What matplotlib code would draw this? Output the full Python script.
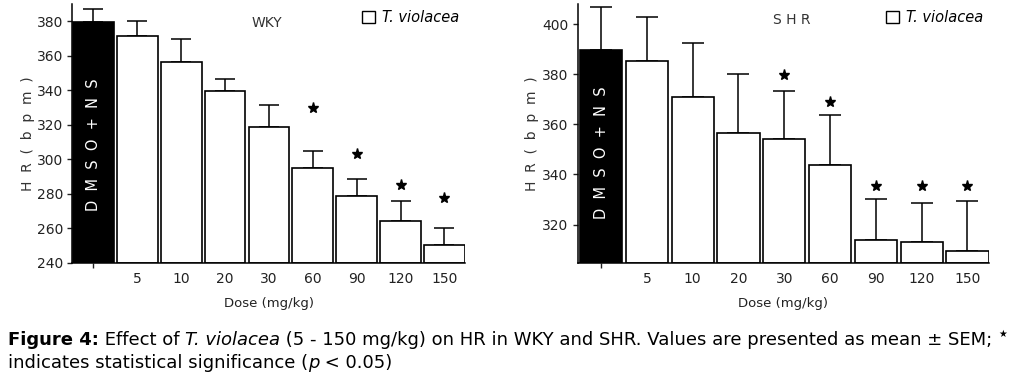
import matplotlib
matplotlib.use("Agg")
import matplotlib.pyplot as plt
from matplotlib.patches import Patch
import numpy as np

plt.rcParams['font.family'] = ['DejaVu Sans']

# doses on the x axis (first bar is the vehicle control)
doses = ['', '5', '10', '20', '30', '60', '90', '120', '150']

# WKY heart rate (mean, upper SEM end) and star heights
wky_mean = [379.5, 371.3, 356.6, 339.6, 318.7, 295.0, 278.8, 264.3, 250.4]
wky_top = [387.3, 380.0, 369.5, 346.8, 331.4, 304.8, 288.6, 275.8, 260.2]
wky_star = [None, None, None, None, None, 329.6, 303.0, 285.0, 277.6]

# SHR heart rate
shr_mean = [389.6, 385.1, 371.0, 356.5, 354.2, 343.7, 314.0, 312.9, 309.6]
shr_top = [406.9, 403.0, 392.3, 380.0, 373.4, 363.8, 330.2, 328.5, 329.6]
shr_star = [None, None, None, None, 379.6, 369.0, 335.4, 335.4, 335.4]

W, H = 1020, 384
fig = plt.figure(figsize=(W / 100, H / 100), dpi=100)

ax1 = fig.add_axes([72 / W, 1 - 263 / H, 393 / W, 259 / H])
ax2 = fig.add_axes([577.7 / W, 1 - 263 / H, 411.3 / W, 259 / H])


def panel(ax, mean, top, star, ylim, yticks, xlim, width, cap, title, tx, ty, dmso_y):
    x = np.arange(len(mean))
    mean = np.array(mean)
    top = np.array(top)
    colors = ['black'] + ['white'] * (len(mean) - 1)
    ax.errorbar(x, mean, yerr=[np.zeros(len(mean)), top - mean], fmt='none',
                ecolor='black', elinewidth=1.1, capsize=cap, capthick=1.1, zorder=1)
    ax.bar(x, mean - ylim[0], bottom=ylim[0], width=width, color=colors,
           edgecolor='black', linewidth=1.2, zorder=2)
    sx = [i for i, s in enumerate(star) if s is not None]
    sy = [s for s in star if s is not None]
    ax.plot(sx, sy, '*', color='black', markersize=8, linestyle='none')
    ax.set_ylim(*ylim)
    ax.set_xlim(*xlim)
    ax.set_yticks(yticks)
    ax.set_xticks(x)
    ax.set_xticklabels(doses)
    for i, t in enumerate(ax.xaxis.get_major_ticks()):
        if i > 0:
            t.tick1line.set_visible(False)
    ax.tick_params(labelsize=10, length=3.5, width=1, colors='#222222', pad=3)
    for s in ['top', 'right']:
        ax.spines[s].set_visible(False)
    for s in ['left', 'bottom']:
        ax.spines[s].set_linewidth(1.1)
    ax.text(tx, ty, title, transform=ax.transAxes, ha='center', va='center',
            fontsize=10, color='#333333')
    ax.text(0, dmso_y, 'D  M  S  O  +  N  S', rotation=90, color='white',
            ha='center', va='center', fontsize=10.5)
    ax.set_ylabel('H  R  (  b  p  m  )', fontsize=10, color='#333333')
    ax.yaxis.set_label_coords(-0.094, 0.5)
    ax.set_xlabel('Dose (mg/kg)', fontsize=9.5, color='#222222', labelpad=8)
    ax.legend(handles=[Patch(facecolor='white', edgecolor='black', linewidth=1)],
              labels=['T. violacea'], loc='upper right', frameon=False,
              prop={'style': 'italic', 'size': 10.5}, handlelength=0.85,
              handleheight=0.85, handletextpad=0.5, borderaxespad=0.0,
              bbox_to_anchor=(1.0, 1.0))


panel(ax1, wky_mean, wky_top, wky_star, (240, 390), [240, 260, 280, 300, 320, 340, 360, 380],
      (-0.49, 8.47), 0.93, 7, 'WKY', 0.496, 0.927, 308.7)
panel(ax2, shr_mean, shr_top, shr_star, (304.7, 408), [320, 340, 360, 380, 400],
      (-0.51, 8.47), 0.92, 8, 'S H R', 0.521, 0.938, 348.6)

# caption, drawn piece by piece
renderer = fig.canvas.get_renderer()


def write(pieces, x, y):
    for txt, kw in pieces:
        t = fig.text(x / W, 1 - y / H, txt, va='baseline', ha='left', **kw)
        x += t.get_window_extent(renderer).width
    return x


cap_fs = 13
end = write([('Figure 4:', dict(fontsize=cap_fs, fontweight='bold')),
             (' Effect of ', dict(fontsize=cap_fs)),
             ('T. violacea', dict(fontsize=cap_fs, style='italic')),
             (' (5 - 150 mg/kg) on HR in WKY and SHR. Values are presented as mean \u00b1 SEM; ',
              dict(fontsize=cap_fs))], 8, 345)
fig.text(end / W, 1 - 337 / H, '\u2605', fontsize=7, va='baseline')
write([('indicates statistical significance (', dict(fontsize=cap_fs)),
       ('p', dict(fontsize=cap_fs, style='italic')),
       (' < 0.05)', dict(fontsize=cap_fs))], 8, 368)

fig.savefig('out.png', dpi=100)
